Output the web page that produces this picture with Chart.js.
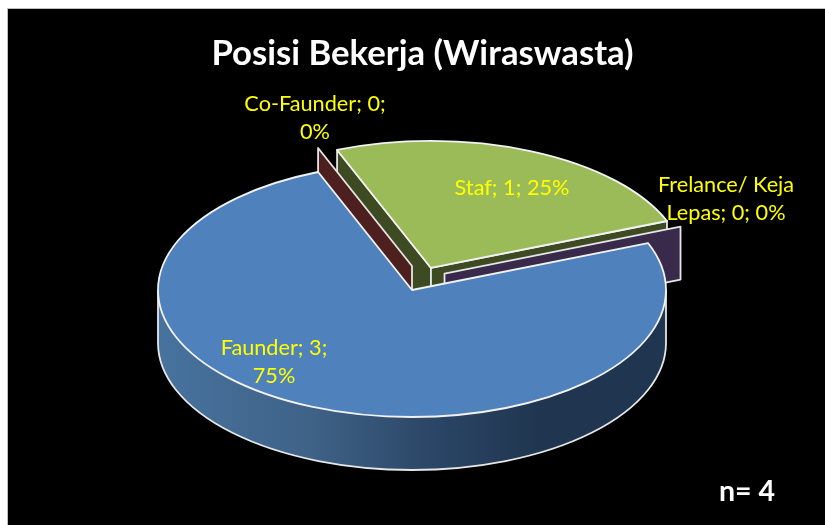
<!DOCTYPE html>
<html><head><meta charset="utf-8">
<style>html,body{margin:0;padding:0;background:#fff}canvas{display:block}</style>
<script src="https://cdn.jsdelivr.net/npm/chart.js@4/dist/chart.umd.min.js"></script>
</head><body><canvas id="c" width="825" height="525"></canvas>
<script>
const categories = ['Faunder','Co-Faunder','Staf','Frelance/ Keja Lepas'];
const values = [3,0,1,0];
const topColors = ['#4F81BD','#4F81BD','#9BBB59','#8064A2'];
const wallColors = ['#1F3552','#4E1F1F','#3E4A22','#392A4B'];
const explode = [0,0,192,140];
const wallLift = [0,24,0,10];
const drawOrder = [2,3,1];
const labelAnchors = [[274,348,125],[315,104,160],[512,188,220],[726,185,150]];
const titleText = 'Posisi Bekerja (Wiraswasta)';
const noteText = 'n= 4';
const rotationDeg = 68.3, radius = 254, squash = 0.5, depth = 53, pieX = 412, pieY = 290;
const edge = '#E6E6E6';
const total = values.reduce((a,b)=>a+b,0);

function geo(arc,i){
  const off=(arc.options.offset||0)/4, mid=(arc.startAngle+arc.endAngle)/2;
  return {cx:pieX+Math.cos(mid)*off, cy:pieY+Math.sin(mid)*off*squash-wallLift[i],
          r:arc.outerRadius, ry:arc.outerRadius*squash, a0:arc.startAngle, a1:arc.endAngle};
}
function pt(g,a){return [g.cx+Math.cos(a)*g.r, g.cy+Math.sin(a)*g.ry];}
function wall(ctx,g,a,color){
  const p=pt(g,a);
  ctx.beginPath();
  ctx.moveTo(g.cx,g.cy);ctx.lineTo(p[0],p[1]);ctx.lineTo(p[0],p[1]+depth);ctx.lineTo(g.cx,g.cy+depth);ctx.closePath();
  ctx.fillStyle=color;ctx.fill();ctx.strokeStyle=edge;ctx.lineWidth=1.8;ctx.stroke();
}
const pie3d={
  id:'pie3d',
  beforeDraw(chart){
    const c=chart.ctx;c.save();
    c.fillStyle='#fff';c.fillRect(0,0,825,525);
    c.fillStyle='#000';c.fillRect(8,9,817,516);
    c.strokeStyle='#BFBFBF';c.lineWidth=1;c.strokeRect(7.5,8.5,830,530);
    c.restore();
  },
  beforeDatasetsDraw(chart){
    const c=chart.ctx, arcs=chart.getDatasetMeta(0).data;
    c.save();c.lineJoin='round';
    drawOrder.forEach(i=>{
      const g=geo(arcs[i],i);
      wall(c,g,g.a0,wallColors[i]);
      if(g.a1!==g.a0) wall(c,g,g.a1,wallColors[i]);
    });
    // outer front side of every slice that faces the viewer
    arcs.forEach((arc,i)=>{
      const g=geo(arc,i), a0=Math.max(g.a0,0), a1=Math.min(g.a1,Math.PI);
      if(a1<=a0) return;
      const grad=c.createLinearGradient(g.cx-g.r,0,g.cx+g.r,0);
      grad.addColorStop(0,'#47739F');grad.addColorStop(0.3,'#3F6287');
      grad.addColorStop(0.55,'#2A4565');grad.addColorStop(0.75,'#203650');grad.addColorStop(1,'#1F3550');
      c.beginPath();
      c.ellipse(g.cx,g.cy,g.r,g.ry,0,a0,a1);
      c.ellipse(g.cx,g.cy+depth,g.r,g.ry,0,a1,a0,true);
      c.closePath();c.fillStyle=grad;c.fill();
      c.beginPath();c.ellipse(g.cx,g.cy+depth,g.r,g.ry,0,a0,a1);
      c.moveTo(g.cx-g.r,g.cy);c.lineTo(g.cx-g.r,g.cy+depth);
      c.moveTo(g.cx+g.r,g.cy);c.lineTo(g.cx+g.r,g.cy+depth);
      c.strokeStyle=edge;c.lineWidth=1.8;c.stroke();
    });
    c.restore();
    const a=arcs[0];
    c.save();
    c.translate(pieX,pieY);c.scale(1,squash);c.translate(-a.x,-a.y);
  },
  afterDatasetsDraw(chart){
    const c=chart.ctx, arcs=chart.getDatasetMeta(0).data;
    c.restore();
    c.save();c.lineJoin='round';c.strokeStyle='#F2F2F2';c.lineWidth=1.8;
    arcs.forEach((arc,i)=>{
      if(arc.endAngle===arc.startAngle) return;
      const g=geo(arc,i);
      c.beginPath();c.moveTo(g.cx,g.cy);
      c.ellipse(g.cx,g.cy,g.r,g.ry,0,g.a0,g.a1);c.closePath();c.stroke();
    });
    c.fillStyle='#FFFF00';c.font='21.7px Lato';c.textAlign='center';c.textBaseline='middle';
    categories.forEach((cat,i)=>{
      const text=cat+'; '+values[i]+'; '+Math.round(values[i]/total*100)+'%';
      const lines=[];let cur='';
      text.split(' ').forEach(w=>{
        const t=cur?cur+' '+w:w;
        if(c.measureText(t).width>labelAnchors[i][2]&&cur){lines.push(cur);cur=w;}else cur=t;
      });
      lines.push(cur);
      lines.forEach((l,k)=>c.fillText(l,labelAnchors[i][0],labelAnchors[i][1]+k*28.5));
    });
    c.fillStyle='#fff';c.font='bold 28.5px Lato';c.fillText(noteText,747,492);
    c.restore();
  }
};
new Chart(document.getElementById('c'),{
  type:'pie',
  data:{labels:categories,datasets:[{data:values,backgroundColor:topColors,borderWidth:0,offset:explode,radius:radius}]},
  options:{
    responsive:false,animation:false,rotation:rotationDeg,
    layout:{padding:{left:20}},
    plugins:{
      legend:{display:false},tooltip:{enabled:false},
      title:{display:true,text:titleText,color:'#fff',font:{family:'Lato',size:34.7,weight:'bold'},padding:{top:33,bottom:0}}
    }
  },
  plugins:[pie3d]
});
</script></body></html>
